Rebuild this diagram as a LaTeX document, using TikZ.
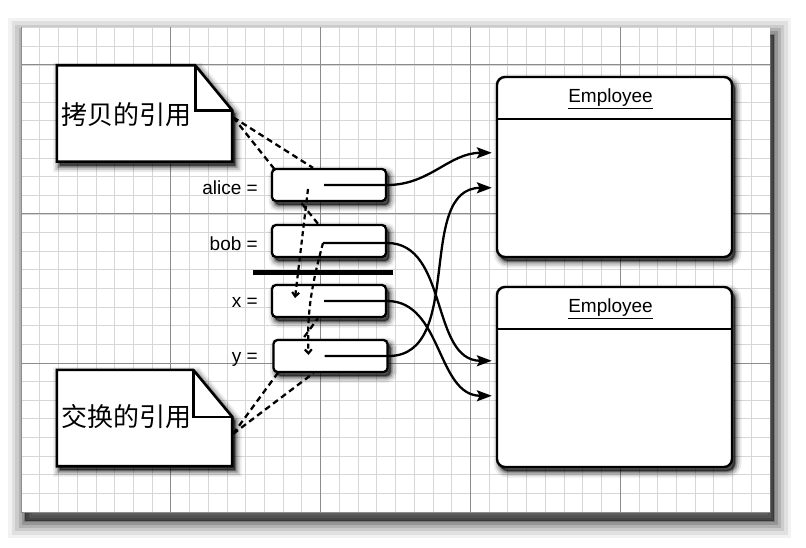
\documentclass[tikz,border=0pt]{standalone}
\usepackage{fontspec}
\setsansfont{Liberation Sans}
\newfontfamily\cjk{Noto Sans CJK SC}
\usetikzlibrary{arrows.meta,calc}
\pgfdeclarelayer{paperlayer}
\pgfdeclarelayer{bglayer}
\pgfsetlayers{paperlayer,bglayer,main}

\begin{document}
\begin{tikzpicture}[x=1pt,y=-1pt,
  minorgrid/.style={draw=black!16, line width=0.8pt},
  majorgrid/.style={draw=black!45, line width=1pt},
  sh/.style n args={4}{preaction={draw=black, fill=black, line width=#1, draw opacity=#2, fill opacity=#2, transform canvas={xshift=#3,yshift=#4}}},
  boxshadow/.style={sh={13pt}{0.08}{3pt}{-4pt}, sh={9pt}{0.14}{3pt}{-4pt}, sh={5pt}{0.22}{3pt}{-4pt}, sh={2pt}{0.3}{3pt}{-4pt}},
  papershadow/.style={sh={34pt}{0.05}{4pt}{-8pt}, sh={27pt}{0.07}{4pt}{-8pt}, sh={20pt}{0.09}{4pt}{-8pt}, sh={13pt}{0.12}{4pt}{-8pt}, sh={7pt}{0.16}{4pt}{-8pt}, sh={2pt}{0.2}{4pt}{-8pt}},
  ptrbox/.style={draw, line width=2.3pt, fill=white, rounded corners=4pt, minimum width=114pt, minimum height=32pt, inner sep=0pt, boxshadow},
  empbox/.style={draw, line width=2.4pt, fill=white, rounded corners=8pt, minimum width=235pt, minimum height=180pt, inner sep=0pt, boxshadow},
  notebox/.style={minimum width=175pt, minimum height=96pt, inner sep=0pt},
  notedraw/.style={draw, line width=2.6pt, fill=white, line join=miter, boxshadow},
  lbl/.style={font=\sffamily\fontsize{19}{22}\selectfont, inner sep=0pt, anchor=base east},
  emptxt/.style={font=\sffamily\fontsize{19}{22}\selectfont, inner sep=0pt},
  cjktxt/.style={font=\cjk\fontsize{26}{28}\selectfont, inner sep=0pt},
  ptrarrow/.style={line width=2.3pt, -{Stealth[length=15pt,width=11pt,inset=3pt]}},
  refdash/.style={line width=2.3pt, dash pattern=on 6pt off 4pt},
  copyarrow/.style={line width=2.2pt, dash pattern=on 5pt off 3.5pt, -{Straight Barb[length=4pt,width=7pt]}},
]
\useasboundingbox (0,0) rectangle (806,548);

% paper with grid
\begin{pgfonlayer}{paperlayer}
  \fill[white] (0,0) rectangle (806,548);
  \path[fill=white, papershadow] (21,27) rectangle (770,513);
  \begin{scope}
    \clip (21,27) rectangle (770,513);
    \foreach \i in {0,...,40} \draw[minorgrid] ({21+\i*18.725},27) -- ({21+\i*18.725},513);
    \foreach \j in {-2,...,24} \draw[minorgrid] (21,{65+\j*18.625}) -- (770,{65+\j*18.625});
    \foreach \i in {0,...,5} \draw[majorgrid] ({21+\i*149.8},27) -- ({21+\i*149.8},513);
    \foreach \j in {0,...,3} \draw[majorgrid] (21,{65+\j*149}) -- (770,{65+\j*149});
  \end{scope}
\end{pgfonlayer}

% note boxes (frames)
\node[notebox] (note1) at (144.5,113.5) {};
\node[notebox] (note2) at (144.5,418) {};
\path[notedraw] (note1.north west) -- ($(note1.north east)+(-37,0)$) -- ($(note1.north east)+(0,45)$) -- (note1.south east) -- (note1.south west) -- cycle;
\draw[line width=2.6pt, line join=miter] ($(note1.north east)+(-37,0)$) -- ($(note1.north east)+(-37,45)$) -- ($(note1.north east)+(0,45)$);
\path[notedraw] (note2.north west) -- ($(note2.north east)+(-39,0)$) -- ($(note2.north east)+(0,47)$) -- (note2.south east) -- (note2.south west) -- cycle;
\draw[line width=2.6pt, line join=miter] ($(note2.north east)+(-39,0)$) -- ($(note2.north east)+(-39,47)$) -- ($(note2.north east)+(0,47)$);
\node[cjktxt] (note1t) at (126,115) {拷贝的引用};
\node[cjktxt] (note2t) at (126,417) {交换的引用};

% pointer boxes
\node[ptrbox] (alice) at (329,185) {};
\node[ptrbox] (bob) at (329,241) {};
\node[ptrbox] (x) at (329,301) {};
\node[ptrbox] (y) at (330.5,356) {};

\node[lbl] (lalice) at (258,195) {alice =};
\node[lbl] (lbob) at (258,251) {bob =};
\node[lbl] (lx) at (258,307) {x =};
\node[lbl] (ly) at (258,362) {y =};

% separator bar
\draw[line width=5pt] (253,272) -- (393,272);

% employee boxes
\node[empbox] (emp1) at (614.5,167) {};
\node[empbox] (emp2) at (614.5,377) {};
\draw[line width=1.8pt] ($(emp1.north west)+(0,43)$) -- ($(emp1.north east)+(0,43)$);
\draw[line width=1.8pt] ($(emp2.north west)+(0,43)$) -- ($(emp2.north east)+(0,43)$);
\node[emptxt] (emp1t) at ($(emp1.north)+(-4,23)$) {\underline{Employee}};
\node[emptxt] (emp2t) at ($(emp2.north)+(-4,23)$) {\underline{Employee}};

% coordinates
\coordinate (pa) at ($(alice.center)+(-5,0)$);
\coordinate (pb) at ($(bob.center)+(-6,2)$);
\coordinate (px) at ($(x.center)+(-5,0)$);
\coordinate (py) at ($(y.center)+(-6,0)$);
\coordinate (t1a) at ($(emp1.north west)+(-4,77)$);
\coordinate (t1b) at ($(emp1.north west)+(-4,112)$);
\coordinate (t2a) at ($(emp2.north west)+(-4,75)$);
\coordinate (t2b) at ($(emp2.north west)+(-4,110)$);
\coordinate (n1) at ($(note1.north east)+(1,52)$);
\coordinate (n2) at ($(note2.north east)+(1,64)$);

% dashed reference lines from the notes (behind the boxes)
\begin{pgfonlayer}{bglayer}
  \draw[refdash] (n1) -- ($(bob.north)+(-11,0)$);
  \draw[refdash] (n1) -- ($(alice.north)+(-16,0)$);
  \draw[refdash] (n2) -- ($(x.south)+(-11,0)$);
  \draw[refdash] (n2) -- ($(y.south)+(-17,0)$);
\end{pgfonlayer}

% pointers
\draw[ptrarrow] (pa) -- (alice.east) to[out=0,in=180] (t1a);
\draw[ptrarrow] (pb) -- (bob.east |- pb) to[out=0,in=180] (t2a);
\draw[ptrarrow] (px) -- (x.east) to[out=0,in=180] (t2b);
\draw[ptrarrow] (py) -- (y.east |- py) to[out=0,in=180] (t1b);

% copy arrows
\draw[copyarrow] ($(alice.center)+(-21,4)$) -- ($(x.center)+(-34,-3)$);
\draw[copyarrow] (pb) to[out=-105,in=92] ($(y.center)+(-22,-1)$);
\end{tikzpicture}
\end{document}
